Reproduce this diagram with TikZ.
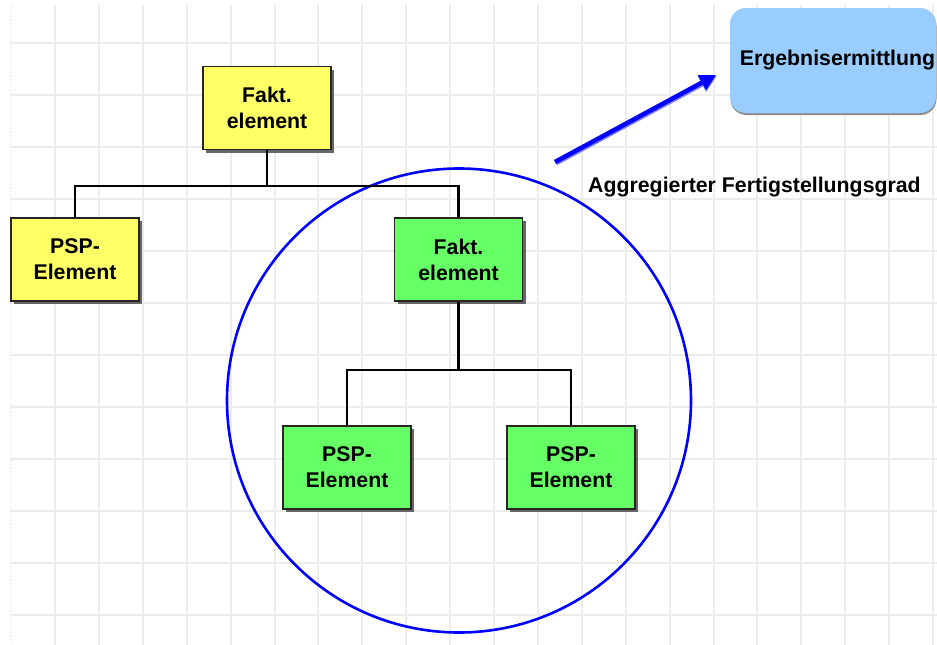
\documentclass[tikz,border=0pt]{standalone}
\usepackage{fontspec}
\setmainfont{Liberation Sans}
\usetikzlibrary{arrows.meta,shadows}
\definecolor{gridc}{RGB}{236,236,236}
\definecolor{yel}{RGB}{255,255,102}
\definecolor{grn}{RGB}{102,255,102}
\definecolor{lblue}{RGB}{153,204,255}
\definecolor{pureblue}{RGB}{0,0,255}
\begin{document}
\begin{tikzpicture}[x=1pt,y=-1pt,
  gridline/.style={draw=gridc,line width=2pt},
  elem/.style={rectangle,draw=black!85,line width=1.3pt,minimum width=128pt,minimum height=83pt,
    align=center,inner sep=0pt,font=\fontsize{21.3}{26}\selectfont\bfseries,
    drop shadow={shadow xshift=3pt,shadow yshift=-3pt,fill=black!60,opacity=1}},
  yelbox/.style={elem,fill=yel},
  grnbox/.style={elem,fill=grn},
  conn/.style={draw=black,line width=2.5pt},
  lbl/.style={font=\fontsize{21.3}{26}\selectfont\bfseries,inner sep=0pt}
]
\useasboundingbox (0,0) rectangle (937,645);
\fill[white] (0,0) rectangle (937,645);
% grid
\draw[draw=gridc!70,line width=1.5pt,dotted] (11,5) -- (11,645);
\foreach \k in {0,...,20} { \draw[gridline] (55+43.9*\k,5) -- (55+43.9*\k,645); }
\foreach \k in {0,...,11} { \draw[gridline] (10,43+52*\k) -- (937,43+52*\k); }
% circle
\node[circle,draw=pureblue,line width=2.6pt,minimum size=464pt,inner sep=0pt] (ring) at (459,400.5) {};
% boxes
\node[yelbox] (top) at (267,108) {Fakt.\\element};
\node[yelbox] (psp1) at (75,259.5) {PSP-\\Element};
\node[grnbox] (fakt2) at (458.5,259.5) {Fakt.\\element};
\node[grnbox] (psp2) at (347,467.5) {PSP-\\Element};
\node[grnbox] (psp3) at (571,467.5) {PSP-\\Element};
% connectors
\coordinate (j1) at (267,186);
\coordinate (j2) at (458.5,370);
\draw[conn] (top.south) -- (j1);
\draw[conn] (psp1.north) |- (j1) -| (fakt2.north);
\draw[conn] (fakt2.south) -- (j2);
\draw[conn] (psp2.north) |- (j2) -| (psp3.north);
% result box
\node[rectangle,rounded corners=16pt,fill=lblue,minimum width=206pt,minimum height=105pt,
  inner sep=0pt,
  drop shadow={shadow xshift=0.5pt,shadow yshift=-2pt,fill=black!45,opacity=1}] (res) at (833,60.5) {};
\node[lbl] (restext) at (837.5,60) {Ergebnisermittlung};
% arrow
\coordinate (as) at (555,162);
\coordinate (ae) at (716,75);
\draw[line width=5.5pt,draw=pureblue!50,-{Triangle[length=17pt,width=17pt]}] ([shift={(0.8,0.8)}]as) -- ([shift={(0.8,0.8)}]ae);
\draw[line width=4.5pt,draw=pureblue,fill=pureblue,-{Triangle[length=16pt,width=16pt]}] (as) -- (ae);
% label
\node[lbl,anchor=base west] (agg) at (588,192) {Aggregierter Fertigstellungsgrad};
\end{tikzpicture}
\end{document}
